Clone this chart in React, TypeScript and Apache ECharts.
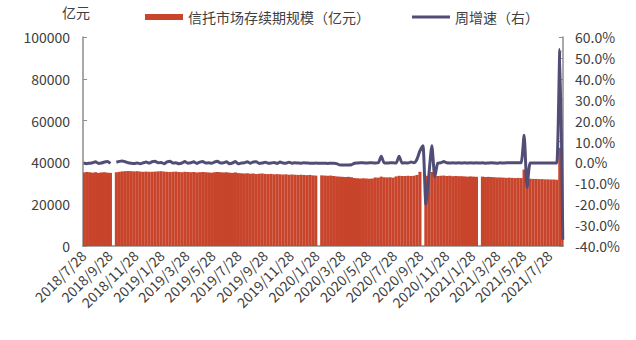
import React, { useEffect, useRef } from "react";
import * as echarts from "echarts";

// Daily category axis: 2018/7/28 .. 2021/8/29
const AXIS_START_UTC = Date.UTC(2018, 6, 28);
const AXIS_DAYS = 1129;

// Weekly observations (Sundays) start one day after the axis origin
const FIRST_WEEK_OFFSET = 1;

// 信托市场存续期规模（亿元）, weekly from 2018/7/29; null = no release that week
const scale2018 = [
  35200, 35400, 35300, 35100, 35300, 35000, 35200, 35300, 35100, 35000, null,
  35300, 35500, 35700, 35800, 35900, 35800, 35700, 35800, 35600, 35500, 35600, 35500,
];
const scale2019 = [
  35500, 35600, 35700, 35800, 35600, 35500, 35400, 35500, 35600, 35400, 35300, 35500, 35400,
  35300, 35400, 35200, 35300, 35400, 35300, 35200, 35100, 35300, 35400, 35300, 35200, 35300,
  35100, 35000, 35200, 34900, 34800, 34700, 34800, 34600, 34700, 34500, 34600, 34700, 34500,
  34400, 34500, 34300, 34400, 34300, 34200, 34300, 34100, 34200, 34100, 34000, 34100, 34000,
];
const scale2020 = [
  33900, 34000, 33800, 33700, null, 33800, 33700, 33600, 33700, 33500, 33300, 33200, 33100,
  33000, 33100, 32900, 32500, 32400, 32300, 32400, 32300, 32200, 32300, 32800, 32700, 33200,
  32900, 32800, 32900, 32700, 33300, 33600, 33500, 33500, 33600, 33500, 33600, 34000, 35500,
  null, 33600, 33400, 35400, 33600, 33500, 33600, 33700, 33500, 33600, 33400, 33500, 33400,
];
const scale2021 = [
  33400, 33300, 33200, 33300, 33200, 33100, null, 33200, 33000, 33100, 33000, 32900, 32800,
  32800, 32700, 32600, 32700, 32600, 32500, 32600, 32500, 36600, 32300, 32200, 32100, 32100,
  32000, 32000, 31900, 31900, 31800, 31800, 31700, 47000, 31000,
];

// 周增速（右）, percent, same weeks
const growth2018 = [
  -0.3, -0.6, -0.4, -0.2, 0.3, -0.5, -0.3, 0.2, 0.4, -0.5, null,
  0.1, 0.5, 0.7, 0.3, -0.2, -0.4, -0.5, -0.3, -0.6, -0.2, 0.2, -0.3,
];
const growth2019 = [
  0.3, 0.5, -0.2, 0.0, -0.6, 0.2, 0.6, -0.3, -0.2, -0.6, -0.3, 0.4, -0.4,
  -0.2, 0.3, -0.5, 0.1, 0.4, -0.3, -0.2, -0.4, 0.2, 0.5, -0.3, -0.2, 0.3,
  -0.6, -0.3, 0.4, -0.7, -0.3, -0.2, 0.3, -0.4, 0.2, 0.3, -0.5, -0.3, 0.1,
  -0.4, -0.3, -0.1, -0.5, 0.2, -0.3, -0.4, 0.1, -0.4, -0.2, -0.3, -0.4, -0.2,
];
const growth2020 = [
  -0.3, -0.4, -0.4, -0.3, -0.4, -0.4, -0.4, -0.5, -0.4, -0.4, -0.6, -1.2, -1.3,
  -1.2, -1.2, -1.1, -0.4, -0.3, -0.2, -0.2, -0.3, -0.2, -0.2, -0.3, -0.2, 3.0,
  -0.3, -0.3, -0.2, -0.2, -0.3, 3.0, -0.3, -0.2, -0.3, 0.2, -0.2, 1.5, 5.5,
  8.0, -20.0, -6.0, 8.0, -7.0, -0.3, -0.2, 0.4, -0.2, -0.3, -0.2, -0.3, -0.2,
];
const growth2021 = [
  -0.3, -0.2, -0.3, -0.2, -0.3, -0.2, -0.3, -0.2, -0.4, -0.3, -0.2, -0.3, -0.4,
  -0.2, -0.3, -0.2, -0.2, -0.2, -0.2, -0.2, -0.2, 13.0, -12.0, -0.3, -0.3, -0.3,
  -0.3, -0.3, -0.3, -0.3, -0.3, -0.3, -0.3, 54.0, -37.0,
];

const scaleValues = [...scale2018, ...scale2019, ...scale2020, ...scale2021];
const growthValues = [...growth2018, ...growth2019, ...growth2020, ...growth2021];

const LEFT_TICKS = { min: 0, max: 100000, interval: 20000 };
const RIGHT_TICKS = { min: -40, max: 60, interval: 10 };

const BAR_NAME = "信托市场存续期规模（亿元）";
const LINE_NAME = "周增速（右）";
const UNIT_LABEL = "亿元";

const BAR_COLOR = "#C8442B";
const LINE_COLOR = "#514D76";
const AXIS_COLOR = "#8C8C8C";
const TEXT_COLOR = "#404040";
const FONT = '"Noto Sans CJK SC", "Noto Sans", sans-serif';

function dayLabel(offset: number): string {
  const d = new Date(AXIS_START_UTC + offset * 86400000);
  return `${d.getUTCFullYear()}/${d.getUTCMonth() + 1}/${d.getUTCDate()}`;
}

const categories: string[] = [];
for (let i = 0; i < AXIS_DAYS; i++) categories.push(dayLabel(i));

const weekLabels = scaleValues.map((_, i) => dayLabel(FIRST_WEEK_OFFSET + 7 * i));

// ticks and labels on the 28th of every other month (Jan, Mar, May, Jul, Sep, Nov)
const isMarkDay = (_idx: number, value: string) => {
  const parts = value.split("/");
  return parts[2] === "28" && Number(parts[1]) % 2 === 1;
};

export default function App() {
  const ref = useRef<HTMLDivElement>(null);

  useEffect(() => {
    if (!ref.current) return;
    const chart = echarts.init(ref.current, null, { renderer: "svg" });

    const barData = scaleValues.map((v, i) => [weekLabels[i], v]);
    const lineData = growthValues.map((v, i) => [weekLabels[i], v]);

    chart.setOption({
      animation: false,
      textStyle: { fontFamily: FONT },
      grid: { left: 83, right: 73, top: 37, bottom: 94, containLabel: false },
      legend: {
        left: 140,
        top: 5,
        itemWidth: 38,
        itemHeight: 6,
        itemGap: 42,
        symbolKeepAspect: true,
        textStyle: { fontSize: 14, color: TEXT_COLOR, fontFamily: FONT },
        data: [
          { name: BAR_NAME, icon: "rect" },
          { name: LINE_NAME, icon: "path://M0,0H38V3H0Z" },
        ],
      },
      graphic: [
        {
          type: "text",
          left: 62,
          top: 5,
          style: { text: UNIT_LABEL, fontSize: 14, fill: TEXT_COLOR, fontFamily: FONT },
        },
      ],
      xAxis: {
        type: "category",
        data: categories,
        boundaryGap: true,
        axisLine: { lineStyle: { color: AXIS_COLOR, width: 1.5 } },
        axisTick: {
          inside: true,
          length: 4,
          alignWithLabel: true,
          interval: isMarkDay,
          lineStyle: { color: AXIS_COLOR },
        },
        axisLabel: {
          interval: isMarkDay,
          rotate: 45,
          margin: 7,
          fontSize: 14,
          color: TEXT_COLOR,
          fontFamily: FONT,
        },
        splitLine: { show: false },
      },
      yAxis: [
        {
          type: "value",
          ...LEFT_TICKS,
          axisLine: { show: true, lineStyle: { color: AXIS_COLOR, width: 1.5 } },
          axisTick: { show: true, inside: true, length: 4, lineStyle: { color: AXIS_COLOR } },
          axisLabel: {
            fontSize: 14,
            color: TEXT_COLOR,
            margin: 13,
            fontFamily: FONT,
            formatter: (v: number) => String(v),
          },
          splitLine: { show: false },
        },
        {
          type: "value",
          ...RIGHT_TICKS,
          position: "right",
          axisLine: { show: true, lineStyle: { color: AXIS_COLOR, width: 1.5 } },
          axisTick: { show: true, inside: true, length: 4, lineStyle: { color: AXIS_COLOR } },
          axisLabel: {
            fontSize: 14,
            color: TEXT_COLOR,
            margin: 12,
            fontFamily: FONT,
            formatter: (v: number) => `${v.toFixed(1)}%`,
          },
          splitLine: { show: false },
        },
      ],
      series: [
        {
          name: BAR_NAME,
          type: "bar",
          data: barData,
          barWidth: 3.1,
          itemStyle: { color: BAR_COLOR },
          yAxisIndex: 0,
        },
        {
          name: LINE_NAME,
          type: "line",
          data: lineData,
          yAxisIndex: 1,
          symbol: "none",
          smooth: 0.2,
          connectNulls: false,
          lineStyle: { color: LINE_COLOR, width: 3 },
          itemStyle: { color: LINE_COLOR },
          z: 3,
        },
      ],
    });

    return () => chart.dispose();
  }, []);

  return (
    <div
      ref={ref}
      style={{ position: "fixed", left: 0, top: 0, width: 636, height: 340, background: "#fff" }}
    />
  );
}
